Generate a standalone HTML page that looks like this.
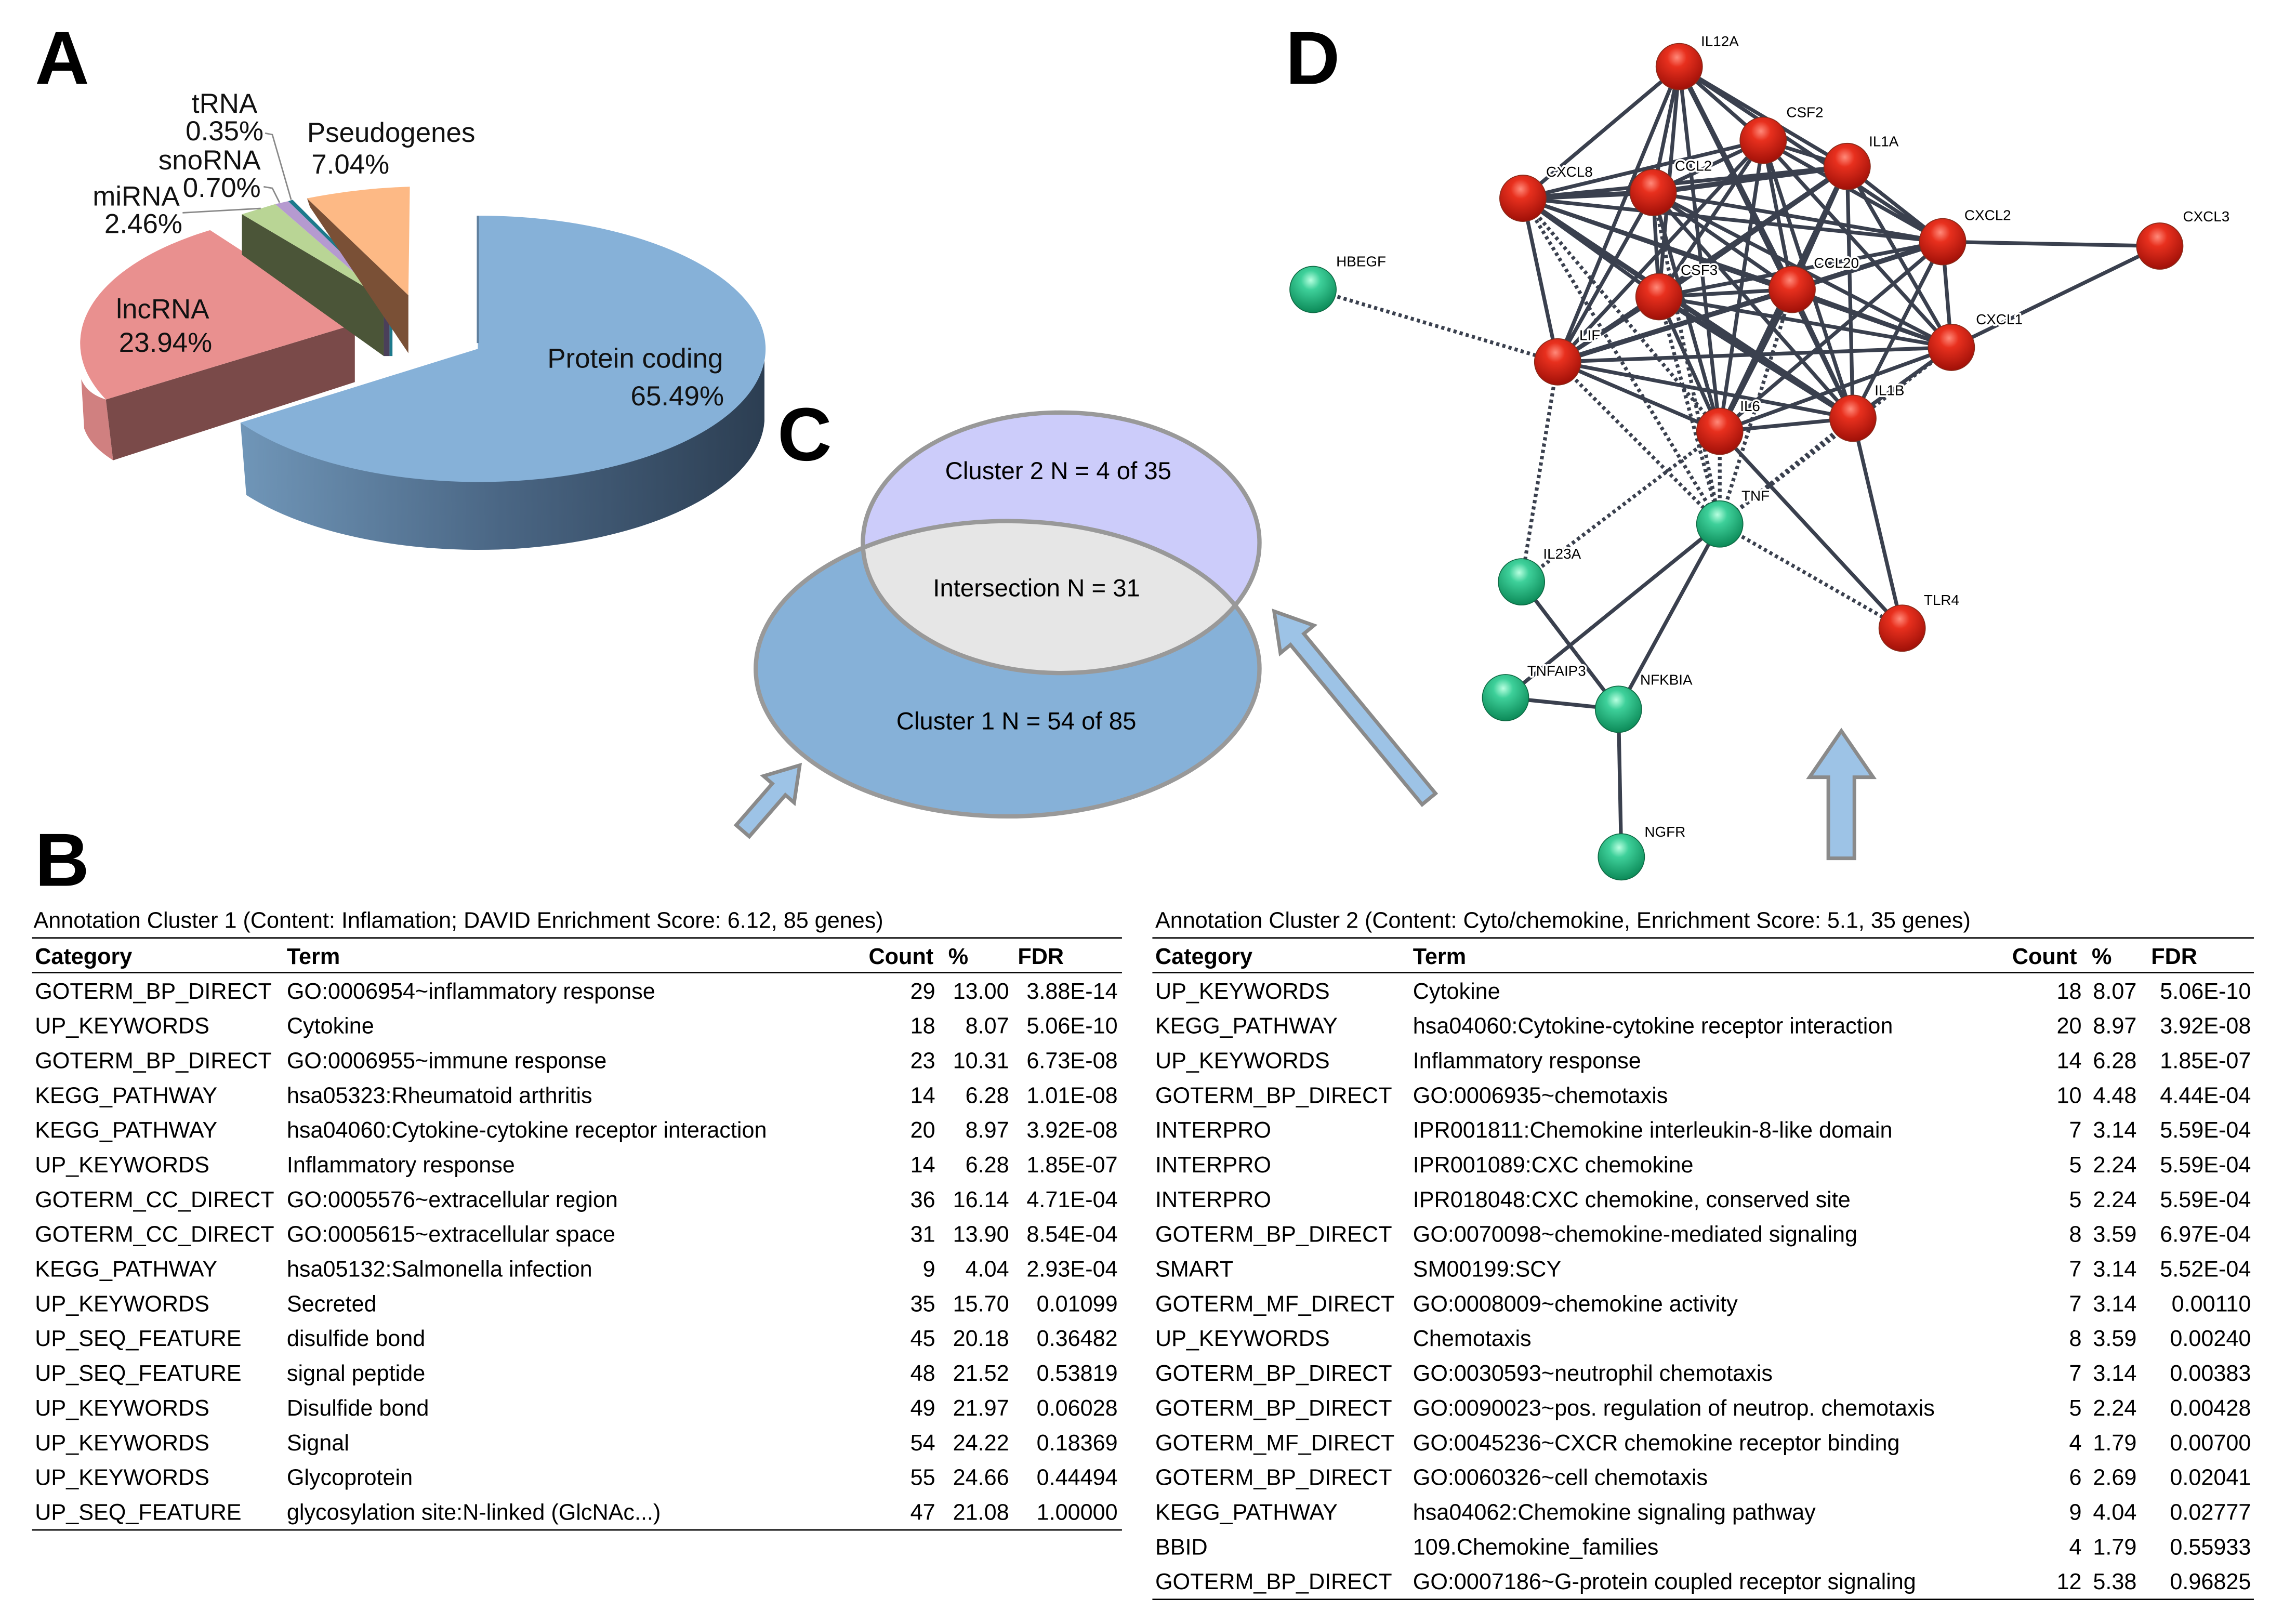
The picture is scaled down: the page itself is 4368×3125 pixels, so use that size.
<!DOCTYPE html>
<html><head><meta charset="utf-8"><style>
html,body{margin:0;padding:0;background:#fff;}
svg{display:block;}
text{font-family:"Liberation Sans",sans-serif;}
.t{font-size:15.5px;fill:#000;}
.h{font-size:15.5px;font-weight:bold;}
.r{text-anchor:end;}
.pl{font-size:19px;fill:#111;}
.big{font-size:52px;font-weight:bold;}
.nl{font-size:10px;fill:#000;stroke:#fff;stroke-width:2.5px;paint-order:stroke;stroke-linejoin:round;}
.e{stroke:#3a404e;stroke-width:2.6;fill:none;}
.d{stroke:#3a404e;stroke-width:2.6;stroke-dasharray:2.2 2.2;fill:none;}
</style></head><body>
<svg width="4368" height="3125" viewBox="0 0 1568 1122" xmlns="http://www.w3.org/2000/svg">
<defs>
<linearGradient id="bside" x1="0" x2="1" y1="0" y2="0"><stop offset="0" stop-color="#7096b8"/><stop offset="0.5" stop-color="#4a6684"/><stop offset="1" stop-color="#2c3e52"/></linearGradient>
<radialGradient id="red" cx="0.45" cy="0.3" r="0.7"><stop offset="0" stop-color="#ff8a7a"/><stop offset="0.3" stop-color="#e8301e"/><stop offset="1" stop-color="#a01008"/></radialGradient>
<radialGradient id="grn" cx="0.45" cy="0.3" r="0.7"><stop offset="0" stop-color="#b8ffe0"/><stop offset="0.3" stop-color="#3ed09a"/><stop offset="1" stop-color="#0c8a58"/></radialGradient>
<clipPath id="c1"><ellipse cx="696" cy="462" rx="174" ry="102"/></clipPath>
</defs>

<text x="24" y="58" class="big">A</text>
<text x="537" y="318" class="big">C</text>
<text x="888" y="58" class="big">D</text>
<text x="24" y="612" class="big">B</text>

<path d="M528,241 A198,92 0 0,1 166,292 L170,342 A198,92 0 0,0 528,291 Z" fill="url(#bside)"/>
<path d="M330,241 L330,149 A198,92 0 1,1 166,292 Z" fill="#86b1d8"/>
<line x1="330" y1="149" x2="330" y2="237" stroke="#5f7f9e" stroke-width="1.5"/>
<path d="M56,262 Q60,272 73,276 L78,318 Q62,308 58,296 Z" fill="#d08080"/>
<path d="M73,276 L245,224 L245,264 L78,318 Z" fill="#7a4a49"/>
<path d="M245,224 L73,276 A190,92 0 0,1 145,159 Z" fill="#e9908f"/>
<path d="M167,148 L265,206 L265,246 L167,176 Z" fill="#4b5538"/>
<path d="M167,148 L190,141 L265,206 Z" fill="#b9d595"/>
<path d="M192,140 L269,207 L269,246 L265,246 L265,206 Z" fill="#4a3f5a"/>
<path d="M190,141 L199,139 L269,207 L265,206 Z" fill="#b59ad0"/>
<path d="M199,139 L202,138 L271,207 L271,246 L269,246 L269,207 Z" fill="#1d7a8c"/>
<path d="M212,137 L282,204 L282,244 L214,143 Z" fill="#7a5036"/>
<path d="M212,137 Q248,130 283,129 L282,204 Z" fill="#fdb985"/>
<text x="155" y="78" class="pl" text-anchor="middle">tRNA</text>
<text x="155" y="97" class="pl" text-anchor="middle">0.35%</text>
<text x="180" y="117" class="pl r">snoRNA</text>
<text x="180" y="136" class="pl r">0.70%</text>
<text x="124" y="142" class="pl r">miRNA</text>
<text x="72" y="161" class="pl">2.46%</text>
<text x="212" y="98" class="pl">Pseudogenes</text>
<text x="215" y="120" class="pl">7.04%</text>
<polyline points="183,92 188,93 201,138" stroke="#888" stroke-width="1" fill="none"/>
<polyline points="182,129 188,130 193,140" stroke="#888" stroke-width="1" fill="none"/>
<line x1="126" y1="147" x2="180" y2="144" stroke="#888" stroke-width="1"/>
<text x="80" y="220" class="pl">lncRNA</text>
<text x="82" y="243" class="pl">23.94%</text>
<text x="378" y="254" class="pl">Protein coding</text>
<text x="500" y="280" class="pl r">65.49%</text>

<ellipse cx="733" cy="375" rx="137" ry="90" fill="#ccccfa"/>
<ellipse cx="696" cy="462" rx="174" ry="102" fill="#86b1d8"/>
<ellipse cx="733" cy="375" rx="137" ry="90" fill="#e6e6e6" clip-path="url(#c1)"/>
<ellipse cx="733" cy="375" rx="137" ry="90" fill="none" stroke="#999" stroke-width="3"/>
<ellipse cx="696" cy="462" rx="174" ry="102" fill="none" stroke="#999" stroke-width="3"/>
<text x="731" y="331" font-size="17" text-anchor="middle">Cluster 2 N = 4 of 35</text>
<text x="716" y="412" font-size="17" text-anchor="middle">Intersection N = 31</text>
<text x="702" y="504" font-size="17" text-anchor="middle">Cluster 1 N = 54 of 85</text>

<g fill="#9dc3e6" stroke="#8a8a8a" stroke-width="2.5" stroke-linejoin="miter">
<polygon transform="translate(1272,593) rotate(-90)" points="0,-9 56,-9 56,-22 88,0 56,22 56,9 0,9"/>
<polygon transform="translate(987,552) rotate(-129.5)" points="0,-6 143,-6 143,-15 168,0 143,15 143,6 0,6"/>
<polygon transform="translate(513,574) rotate(-49)" points="0,-6 38,-6 38,-14 60,0 38,14 38,6 0,6"/>
</g>

<g>
<line class="e" x1="1160" y1="46" x2="1218" y2="97"/>
<line class="e" x1="1160" y1="46" x2="1276" y2="115"/>
<line class="e" x1="1160" y1="46" x2="1052" y2="137"/>
<line class="e" x1="1160" y1="46" x2="1142" y2="133"/>
<line class="e" x1="1160" y1="46" x2="1342" y2="167"/>
<line class="e" x1="1160" y1="46" x2="1146" y2="205"/>
<line class="e" x1="1160" y1="46" x2="1238" y2="200" style="stroke-width:3.5"/>
<line class="e" x1="1160" y1="46" x2="1076" y2="250"/>
<line class="e" x1="1160" y1="46" x2="1188" y2="298"/>
<line class="e" x1="1160" y1="46" x2="1280" y2="289"/>
<line class="e" x1="1218" y1="97" x2="1276" y2="115"/>
<line class="e" x1="1218" y1="97" x2="1052" y2="137"/>
<line class="e" x1="1218" y1="97" x2="1142" y2="133"/>
<line class="e" x1="1218" y1="97" x2="1342" y2="167"/>
<line class="e" x1="1218" y1="97" x2="1146" y2="205"/>
<line class="e" x1="1218" y1="97" x2="1238" y2="200"/>
<line class="e" x1="1218" y1="97" x2="1348" y2="240"/>
<line class="e" x1="1218" y1="97" x2="1076" y2="250"/>
<line class="e" x1="1218" y1="97" x2="1188" y2="298"/>
<line class="e" x1="1218" y1="97" x2="1280" y2="289"/>
<line class="e" x1="1276" y1="115" x2="1052" y2="137"/>
<line class="e" x1="1276" y1="115" x2="1142" y2="133" style="stroke-width:3.5"/>
<line class="e" x1="1276" y1="115" x2="1342" y2="167"/>
<line class="e" x1="1276" y1="115" x2="1146" y2="205" style="stroke-width:3.5"/>
<line class="e" x1="1276" y1="115" x2="1238" y2="200"/>
<line class="e" x1="1276" y1="115" x2="1348" y2="240"/>
<line class="e" x1="1276" y1="115" x2="1076" y2="250"/>
<line class="e" x1="1276" y1="115" x2="1188" y2="298" style="stroke-width:3.5"/>
<line class="e" x1="1276" y1="115" x2="1280" y2="289"/>
<line class="e" x1="1052" y1="137" x2="1142" y2="133" style="stroke-width:3.5"/>
<line class="e" x1="1052" y1="137" x2="1342" y2="167"/>
<line class="e" x1="1052" y1="137" x2="1146" y2="205"/>
<line class="e" x1="1052" y1="137" x2="1238" y2="200"/>
<line class="e" x1="1052" y1="137" x2="1348" y2="240"/>
<line class="e" x1="1052" y1="137" x2="1076" y2="250"/>
<line class="d" x1="1052" y1="137" x2="1188" y2="298"/>
<line class="e" x1="1052" y1="137" x2="1280" y2="289" style="stroke-width:3.5"/>
<line class="e" x1="1142" y1="133" x2="1342" y2="167"/>
<line class="e" x1="1142" y1="133" x2="1146" y2="205"/>
<line class="e" x1="1142" y1="133" x2="1238" y2="200"/>
<line class="e" x1="1142" y1="133" x2="1348" y2="240"/>
<line class="e" x1="1142" y1="133" x2="1076" y2="250"/>
<line class="e" x1="1142" y1="133" x2="1188" y2="298"/>
<line class="e" x1="1142" y1="133" x2="1280" y2="289"/>
<line class="e" x1="1342" y1="167" x2="1146" y2="205"/>
<line class="e" x1="1342" y1="167" x2="1238" y2="200" style="stroke-width:3.5"/>
<line class="e" x1="1342" y1="167" x2="1348" y2="240"/>
<line class="e" x1="1342" y1="167" x2="1076" y2="250"/>
<line class="e" x1="1342" y1="167" x2="1188" y2="298"/>
<line class="e" x1="1342" y1="167" x2="1280" y2="289"/>
<line class="e" x1="1146" y1="205" x2="1238" y2="200"/>
<line class="e" x1="1146" y1="205" x2="1348" y2="240"/>
<line class="e" x1="1146" y1="205" x2="1076" y2="250"/>
<line class="e" x1="1146" y1="205" x2="1188" y2="298"/>
<line class="e" x1="1146" y1="205" x2="1280" y2="289" style="stroke-width:3.5"/>
<line class="e" x1="1238" y1="200" x2="1348" y2="240"/>
<line class="e" x1="1238" y1="200" x2="1076" y2="250" style="stroke-width:3.5"/>
<line class="e" x1="1238" y1="200" x2="1188" y2="298" style="stroke-width:3.5"/>
<line class="e" x1="1238" y1="200" x2="1280" y2="289"/>
<line class="e" x1="1348" y1="240" x2="1076" y2="250"/>
<line class="e" x1="1348" y1="240" x2="1188" y2="298"/>
<line class="e" x1="1348" y1="240" x2="1280" y2="289"/>
<line class="e" x1="1076" y1="250" x2="1188" y2="298"/>
<line class="e" x1="1076" y1="250" x2="1280" y2="289"/>
<line class="e" x1="1188" y1="298" x2="1280" y2="289"/>
<line class="e" x1="1342" y1="167" x2="1492" y2="170"/>
<line class="e" x1="1348" y1="240" x2="1492" y2="170"/>
<line class="d" x1="907" y1="200" x2="1076" y2="250"/>
<line class="d" x1="1076" y1="250" x2="1051" y2="402"/>
<line class="d" x1="1076" y1="250" x2="1188" y2="362"/>
<line class="d" x1="1052" y1="137" x2="1188" y2="362"/>
<line class="d" x1="1146" y1="205" x2="1188" y2="362"/>
<line class="d" x1="1238" y1="200" x2="1188" y2="362"/>
<line class="d" x1="1188" y1="298" x2="1188" y2="362"/>
<line class="d" x1="1280" y1="289" x2="1188" y2="362"/>
<line class="d" x1="1348" y1="240" x2="1188" y2="362"/>
<line class="d" x1="1142" y1="133" x2="1188" y2="362"/>
<line class="d" x1="1051" y1="402" x2="1188" y2="298"/>
<line class="d" x1="1188" y1="362" x2="1314" y2="434"/>
<line class="e" x1="1188" y1="298" x2="1314" y2="434"/>
<line class="e" x1="1280" y1="289" x2="1314" y2="434"/>
<line class="e" x1="1188" y1="362" x2="1040" y2="482"/>
<line class="e" x1="1188" y1="362" x2="1118" y2="490"/>
<line class="e" x1="1051" y1="402" x2="1118" y2="490"/>
<line class="e" x1="1040" y1="482" x2="1118" y2="490"/>
<line class="e" x1="1118" y1="490" x2="1120" y2="592"/>
</g>

<g stroke="#8a2a1a" stroke-width="0.6">
<circle cx="1160" cy="46" r="16" fill="url(#red)"/>
<circle cx="1218" cy="97" r="16" fill="url(#red)"/>
<circle cx="1276" cy="115" r="16" fill="url(#red)"/>
<circle cx="1052" cy="137" r="16" fill="url(#red)"/>
<circle cx="1142" cy="133" r="16" fill="url(#red)"/>
<circle cx="1342" cy="167" r="16" fill="url(#red)"/>
<circle cx="1492" cy="170" r="16" fill="url(#red)"/>
<circle cx="1146" cy="205" r="16" fill="url(#red)"/>
<circle cx="1238" cy="200" r="16" fill="url(#red)"/>
<circle cx="1348" cy="240" r="16" fill="url(#red)"/>
<circle cx="1076" cy="250" r="16" fill="url(#red)"/>
<circle cx="1188" cy="298" r="16" fill="url(#red)"/>
<circle cx="1280" cy="289" r="16" fill="url(#red)"/>
<circle cx="1314" cy="434" r="16" fill="url(#red)"/>
</g>
<g stroke="#0e6a44" stroke-width="0.6">
<circle cx="907" cy="200" r="16" fill="url(#grn)"/>
<circle cx="1188" cy="362" r="16" fill="url(#grn)"/>
<circle cx="1051" cy="402" r="16" fill="url(#grn)"/>
<circle cx="1040" cy="482" r="16" fill="url(#grn)"/>
<circle cx="1118" cy="490" r="16" fill="url(#grn)"/>
<circle cx="1120" cy="592" r="16" fill="url(#grn)"/>
</g>
<g>
<text x="1175" y="32" class="nl">IL12A</text>
<text x="1234" y="81" class="nl">CSF2</text>
<text x="1291" y="101" class="nl">IL1A</text>
<text x="1068" y="122" class="nl">CXCL8</text>
<text x="1157" y="118" class="nl">CCL2</text>
<text x="1357" y="152" class="nl">CXCL2</text>
<text x="1508" y="153" class="nl">CXCL3</text>
<text x="923" y="184" class="nl">HBEGF</text>
<text x="1161" y="190" class="nl">CSF3</text>
<text x="1253" y="185" class="nl">CCL20</text>
<text x="1365" y="224" class="nl">CXCL1</text>
<text x="1091" y="235" class="nl">LIF</text>
<text x="1202" y="284" class="nl">IL6</text>
<text x="1295" y="273" class="nl">IL1B</text>
<text x="1203" y="346" class="nl">TNF</text>
<text x="1066" y="386" class="nl">IL23A</text>
<text x="1329" y="418" class="nl">TLR4</text>
<text x="1055" y="467" class="nl">TNFAIP3</text>
<text x="1133" y="473" class="nl">NFKBIA</text>
<text x="1136" y="578" class="nl">NGFR</text>
</g>

<text x="23" y="641" class="t">Annotation Cluster 1 (Content: Inflamation; DAVID Enrichment Score: 6.12, 85 genes)</text>
<line x1="22" y1="648" x2="775" y2="648" stroke="#000" stroke-width="1"/>
<text x="24" y="666" class="h">Category</text>
<text x="198" y="666" class="h">Term</text>
<text x="600" y="666" class="h">Count</text>
<text x="655" y="666" class="h">%</text>
<text x="703" y="666" class="h">FDR</text>
<line x1="22" y1="672" x2="775" y2="672" stroke="#000" stroke-width="1"/>
<g class="t">
<text x="24" y="690">GOTERM_BP_DIRECT</text><text x="198" y="690">GO:0006954~inflammatory response</text><text x="646" y="690" class="r">29</text><text x="697" y="690" class="r">13.00</text><text x="772" y="690" class="r">3.88E-14</text>
<text x="24" y="714">UP_KEYWORDS</text><text x="198" y="714">Cytokine</text><text x="646" y="714" class="r">18</text><text x="697" y="714" class="r">8.07</text><text x="772" y="714" class="r">5.06E-10</text>
<text x="24" y="738">GOTERM_BP_DIRECT</text><text x="198" y="738">GO:0006955~immune response</text><text x="646" y="738" class="r">23</text><text x="697" y="738" class="r">10.31</text><text x="772" y="738" class="r">6.73E-08</text>
<text x="24" y="762">KEGG_PATHWAY</text><text x="198" y="762">hsa05323:Rheumatoid arthritis</text><text x="646" y="762" class="r">14</text><text x="697" y="762" class="r">6.28</text><text x="772" y="762" class="r">1.01E-08</text>
<text x="24" y="786">KEGG_PATHWAY</text><text x="198" y="786">hsa04060:Cytokine-cytokine receptor interaction</text><text x="646" y="786" class="r">20</text><text x="697" y="786" class="r">8.97</text><text x="772" y="786" class="r">3.92E-08</text>
<text x="24" y="810">UP_KEYWORDS</text><text x="198" y="810">Inflammatory response</text><text x="646" y="810" class="r">14</text><text x="697" y="810" class="r">6.28</text><text x="772" y="810" class="r">1.85E-07</text>
<text x="24" y="834">GOTERM_CC_DIRECT</text><text x="198" y="834">GO:0005576~extracellular region</text><text x="646" y="834" class="r">36</text><text x="697" y="834" class="r">16.14</text><text x="772" y="834" class="r">4.71E-04</text>
<text x="24" y="858">GOTERM_CC_DIRECT</text><text x="198" y="858">GO:0005615~extracellular space</text><text x="646" y="858" class="r">31</text><text x="697" y="858" class="r">13.90</text><text x="772" y="858" class="r">8.54E-04</text>
<text x="24" y="882">KEGG_PATHWAY</text><text x="198" y="882">hsa05132:Salmonella infection</text><text x="646" y="882" class="r">9</text><text x="697" y="882" class="r">4.04</text><text x="772" y="882" class="r">2.93E-04</text>
<text x="24" y="906">UP_KEYWORDS</text><text x="198" y="906">Secreted</text><text x="646" y="906" class="r">35</text><text x="697" y="906" class="r">15.70</text><text x="772" y="906" class="r">0.01099</text>
<text x="24" y="930">UP_SEQ_FEATURE</text><text x="198" y="930">disulfide bond</text><text x="646" y="930" class="r">45</text><text x="697" y="930" class="r">20.18</text><text x="772" y="930" class="r">0.36482</text>
<text x="24" y="954">UP_SEQ_FEATURE</text><text x="198" y="954">signal peptide</text><text x="646" y="954" class="r">48</text><text x="697" y="954" class="r">21.52</text><text x="772" y="954" class="r">0.53819</text>
<text x="24" y="978">UP_KEYWORDS</text><text x="198" y="978">Disulfide bond</text><text x="646" y="978" class="r">49</text><text x="697" y="978" class="r">21.97</text><text x="772" y="978" class="r">0.06028</text>
<text x="24" y="1002">UP_KEYWORDS</text><text x="198" y="1002">Signal</text><text x="646" y="1002" class="r">54</text><text x="697" y="1002" class="r">24.22</text><text x="772" y="1002" class="r">0.18369</text>
<text x="24" y="1026">UP_KEYWORDS</text><text x="198" y="1026">Glycoprotein</text><text x="646" y="1026" class="r">55</text><text x="697" y="1026" class="r">24.66</text><text x="772" y="1026" class="r">0.44494</text>
<text x="24" y="1050">UP_SEQ_FEATURE</text><text x="198" y="1050">glycosylation site:N-linked (GlcNAc...)</text><text x="646" y="1050" class="r">47</text><text x="697" y="1050" class="r">21.08</text><text x="772" y="1050" class="r">1.00000</text>
</g>
<line x1="22" y1="1057" x2="775" y2="1057" stroke="#000" stroke-width="1"/>

<text x="798" y="641" class="t">Annotation Cluster 2 (Content: Cyto/chemokine, Enrichment Score: 5.1, 35 genes)</text>
<line x1="796" y1="648" x2="1557" y2="648" stroke="#000" stroke-width="1"/>
<text x="798" y="666" class="h">Category</text>
<text x="976" y="666" class="h">Term</text>
<text x="1390" y="666" class="h">Count</text>
<text x="1445" y="666" class="h">%</text>
<text x="1486" y="666" class="h">FDR</text>
<line x1="796" y1="672" x2="1557" y2="672" stroke="#000" stroke-width="1"/>
<g class="t">
<text x="798" y="690">UP_KEYWORDS</text><text x="976" y="690">Cytokine</text><text x="1438" y="690" class="r">18</text><text x="1476" y="690" class="r">8.07</text><text x="1555" y="690" class="r">5.06E-10</text>
<text x="798" y="714">KEGG_PATHWAY</text><text x="976" y="714">hsa04060:Cytokine-cytokine receptor interaction</text><text x="1438" y="714" class="r">20</text><text x="1476" y="714" class="r">8.97</text><text x="1555" y="714" class="r">3.92E-08</text>
<text x="798" y="738">UP_KEYWORDS</text><text x="976" y="738">Inflammatory response</text><text x="1438" y="738" class="r">14</text><text x="1476" y="738" class="r">6.28</text><text x="1555" y="738" class="r">1.85E-07</text>
<text x="798" y="762">GOTERM_BP_DIRECT</text><text x="976" y="762">GO:0006935~chemotaxis</text><text x="1438" y="762" class="r">10</text><text x="1476" y="762" class="r">4.48</text><text x="1555" y="762" class="r">4.44E-04</text>
<text x="798" y="786">INTERPRO</text><text x="976" y="786">IPR001811:Chemokine interleukin-8-like domain</text><text x="1438" y="786" class="r">7</text><text x="1476" y="786" class="r">3.14</text><text x="1555" y="786" class="r">5.59E-04</text>
<text x="798" y="810">INTERPRO</text><text x="976" y="810">IPR001089:CXC chemokine</text><text x="1438" y="810" class="r">5</text><text x="1476" y="810" class="r">2.24</text><text x="1555" y="810" class="r">5.59E-04</text>
<text x="798" y="834">INTERPRO</text><text x="976" y="834">IPR018048:CXC chemokine, conserved site</text><text x="1438" y="834" class="r">5</text><text x="1476" y="834" class="r">2.24</text><text x="1555" y="834" class="r">5.59E-04</text>
<text x="798" y="858">GOTERM_BP_DIRECT</text><text x="976" y="858">GO:0070098~chemokine-mediated signaling</text><text x="1438" y="858" class="r">8</text><text x="1476" y="858" class="r">3.59</text><text x="1555" y="858" class="r">6.97E-04</text>
<text x="798" y="882">SMART</text><text x="976" y="882">SM00199:SCY</text><text x="1438" y="882" class="r">7</text><text x="1476" y="882" class="r">3.14</text><text x="1555" y="882" class="r">5.52E-04</text>
<text x="798" y="906">GOTERM_MF_DIRECT</text><text x="976" y="906">GO:0008009~chemokine activity</text><text x="1438" y="906" class="r">7</text><text x="1476" y="906" class="r">3.14</text><text x="1555" y="906" class="r">0.00110</text>
<text x="798" y="930">UP_KEYWORDS</text><text x="976" y="930">Chemotaxis</text><text x="1438" y="930" class="r">8</text><text x="1476" y="930" class="r">3.59</text><text x="1555" y="930" class="r">0.00240</text>
<text x="798" y="954">GOTERM_BP_DIRECT</text><text x="976" y="954">GO:0030593~neutrophil chemotaxis</text><text x="1438" y="954" class="r">7</text><text x="1476" y="954" class="r">3.14</text><text x="1555" y="954" class="r">0.00383</text>
<text x="798" y="978">GOTERM_BP_DIRECT</text><text x="976" y="978">GO:0090023~pos. regulation of neutrop. chemotaxis</text><text x="1438" y="978" class="r">5</text><text x="1476" y="978" class="r">2.24</text><text x="1555" y="978" class="r">0.00428</text>
<text x="798" y="1002">GOTERM_MF_DIRECT</text><text x="976" y="1002">GO:0045236~CXCR chemokine receptor binding</text><text x="1438" y="1002" class="r">4</text><text x="1476" y="1002" class="r">1.79</text><text x="1555" y="1002" class="r">0.00700</text>
<text x="798" y="1026">GOTERM_BP_DIRECT</text><text x="976" y="1026">GO:0060326~cell chemotaxis</text><text x="1438" y="1026" class="r">6</text><text x="1476" y="1026" class="r">2.69</text><text x="1555" y="1026" class="r">0.02041</text>
<text x="798" y="1050">KEGG_PATHWAY</text><text x="976" y="1050">hsa04062:Chemokine signaling pathway</text><text x="1438" y="1050" class="r">9</text><text x="1476" y="1050" class="r">4.04</text><text x="1555" y="1050" class="r">0.02777</text>
<text x="798" y="1074">BBID</text><text x="976" y="1074">109.Chemokine_families</text><text x="1438" y="1074" class="r">4</text><text x="1476" y="1074" class="r">1.79</text><text x="1555" y="1074" class="r">0.55933</text>
<text x="798" y="1098">GOTERM_BP_DIRECT</text><text x="976" y="1098">GO:0007186~G-protein coupled receptor signaling</text><text x="1438" y="1098" class="r">12</text><text x="1476" y="1098" class="r">5.38</text><text x="1555" y="1098" class="r">0.96825</text>
</g>
<line x1="796" y1="1105" x2="1557" y2="1105" stroke="#000" stroke-width="1"/>
</svg>
</body></html>
